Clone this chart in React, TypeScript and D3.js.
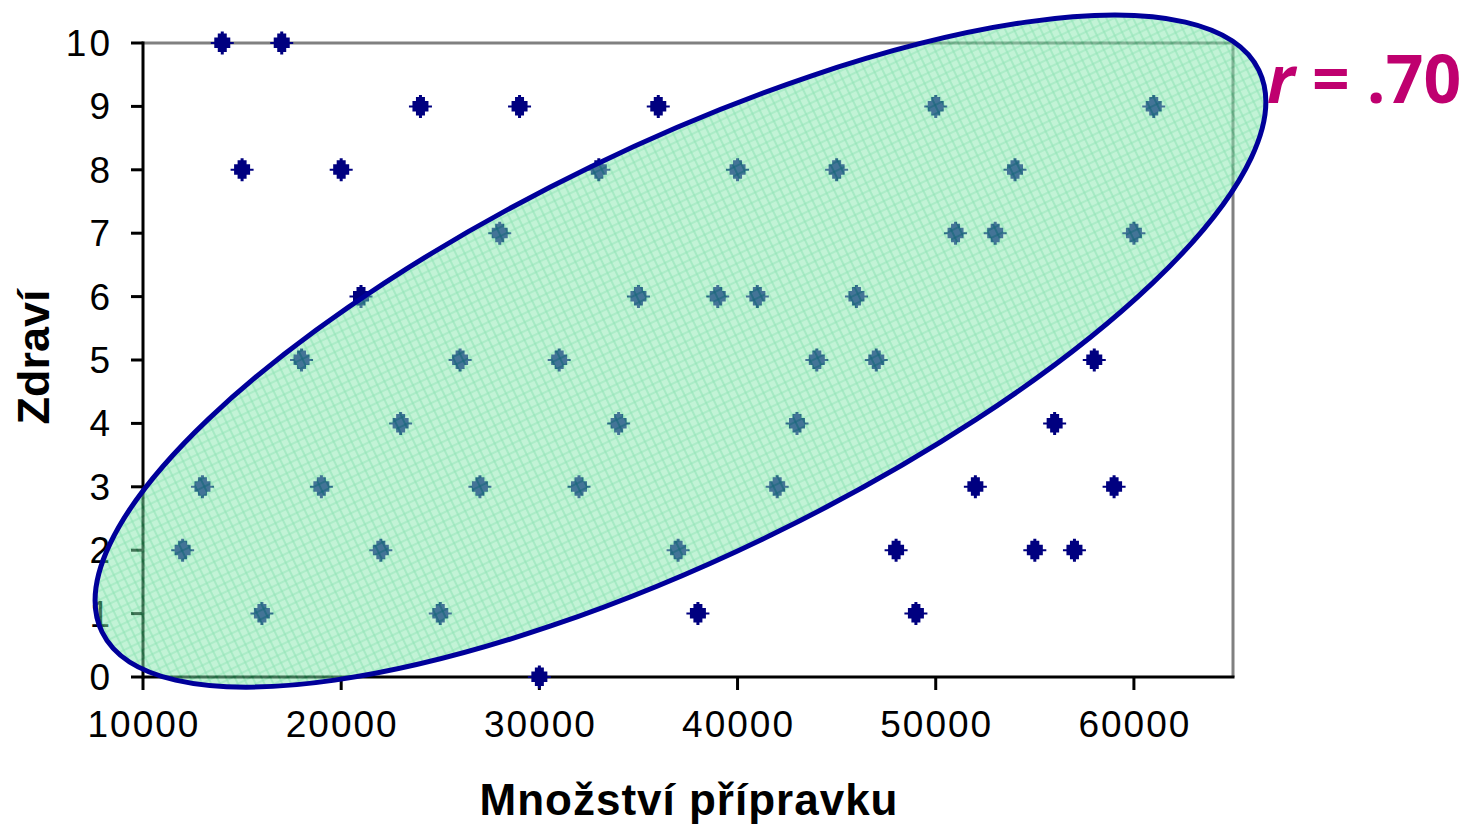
import React from "react";
import * as d3 from "d3";

const xValues = [
  12000, 13000, 14000, 15000, 16000, 17000, 18000, 19000, 20000, 21000,
  22000, 23000, 24000, 25000, 26000, 27000, 28000, 29000, 30000, 31000,
  32000, 33000, 34000, 35000, 36000, 37000, 38000, 39000, 40000, 41000,
  42000, 43000, 44000, 45000, 46000, 47000, 48000, 49000, 50000, 51000,
  52000, 53000, 54000, 55000, 56000, 57000, 58000, 59000, 60000, 61000,
];
const yValues = [
  2, 3, 10, 8, 1, 10, 5, 3, 8, 6,
  2, 4, 9, 1, 5, 3, 7, 9, 0, 5,
  3, 8, 4, 6, 9, 2, 1, 6, 8, 6,
  3, 4, 5, 8, 6, 5, 2, 1, 9, 7,
  3, 7, 8, 2, 4, 2, 5, 3, 7, 9,
];
const xTicks = [10000, 20000, 30000, 40000, 50000, 60000];
const yTicks = [0, 1, 2, 3, 4, 5, 6, 7, 8, 9, 10];
const xTitle = "Množství přípravku";
const yTitle = "Zdraví";
const annotation = "= .70";
// ellipse annotation: centre in data units
const ellipseCenter = [37120, 5.14];

const W = 1463;
const H = 824;
const left = 143, right = 1233, top = 43, bottom = 677;

const markerPath =
  "M-1.5,-11.5H1.5V-9.5H4.5V-5.5H8V-1H11.5V1H8V5H4.5V9H1.5V11.5H-1.5V9H-4.5V5H-8V1H-11.5V-1H-8V-5.5H-4.5V-9.5H-1.5Z";

export default function App() {
  const x = d3.scaleLinear().domain([10000, 65000]).range([left, right]);
  const y = d3.scaleLinear().domain([0, 10]).range([bottom, top]);
  const cx = x(ellipseCenter[0]);
  const cy = y(ellipseCenter[1]);
  const rx = 643, ry = 205, ang = -25.9;
  const tickFont = "'Liberation Sans', Arial, sans-serif";

  return (
    <svg width={W} height={H} style={{ position: "absolute", left: 0, top: 0, background: "#fff" }}>
      <defs>
        <pattern id="gridpat" width={8} height={8} patternUnits="userSpaceOnUse">
          <rect width={8} height={8} fill="#86e8ae" />
          <path d="M0,1H8M1,0V8" stroke="#2ccc72" strokeWidth={1.2} />
        </pattern>
      </defs>
      {/* plot frame (top / right gray) */}
      <line x1={left} x2={right} y1={top} y2={top} stroke="#808080" strokeWidth={3} />
      <line x1={right} x2={right} y1={top} y2={bottom} stroke="#808080" strokeWidth={3} />
      {/* axes */}
      <line x1={left} x2={left} y1={top - 1.5} y2={bottom + 1.5} stroke="#000" strokeWidth={3} />
      <line x1={left} x2={right + 1.5} y1={bottom} y2={bottom} stroke="#000" strokeWidth={3} />
      {yTicks.map((t) => (
        <g key={"y" + t}>
          <line x1={left - 12} x2={left} y1={y(t)} y2={y(t)} stroke="#000" strokeWidth={3} />
          <text
            x={113}
            y={y(t) + 13}
            textAnchor="end"
            fontFamily={tickFont}
            fontSize={37}
            letterSpacing={3}
            fill="#000"
          >
            {t}
          </text>
        </g>
      ))}
      {xTicks.map((t) => (
        <g key={"x" + t}>
          <line x1={x(t)} x2={x(t)} y1={bottom} y2={bottom + 13} stroke="#000" strokeWidth={3} />
          <text
            x={x(t) + 1}
            y={737}
            textAnchor="middle"
            fontFamily={tickFont}
            fontSize={37}
            letterSpacing={2}
            fill="#000"
          >
            {d3.format("d")(t)}
          </text>
        </g>
      ))}
      {/* points */}
      {xValues.map((xv, i) => (
        <path key={i} d={markerPath} transform={`translate(${x(xv)},${y(yValues[i])})`} fill="#000080" />
      ))}
      {/* ellipse overlay */}
      <g opacity={0.5}>
        <ellipse cx={cx} cy={cy} rx={rx} ry={ry} transform={`rotate(${ang} ${cx} ${cy})`} fill="url(#gridpat)" />
      </g>
      <ellipse
        cx={cx}
        cy={cy}
        rx={rx}
        ry={ry}
        transform={`rotate(${ang} ${cx} ${cy})`}
        fill="none"
        stroke="#00009a"
        strokeWidth={5}
      />
      {/* titles */}
      <text
        x={689}
        y={815}
        textAnchor="middle"
        fontFamily="'Liberation Sans', Arial, sans-serif"
        fontWeight="bold"
        fontSize={44}
        letterSpacing={1}
        fill="#000"
      >
        {xTitle}
      </text>
      <text
        transform="translate(49,357) rotate(-90)"
        textAnchor="middle"
        fontFamily="'Liberation Sans', Arial, sans-serif"
        fontWeight="bold"
        fontSize={45}
        fill="#000"
      >
        {yTitle}
      </text>
      <text
        x={1267}
        y={103}
        fontFamily="'Open Sans', sans-serif"
        fontWeight="bold"
        fontSize={66}
        fill="#bf006f"
      >
        <tspan fontStyle="italic">r</tspan>
        <tspan> {annotation}</tspan>
      </text>
    </svg>
  );
}
